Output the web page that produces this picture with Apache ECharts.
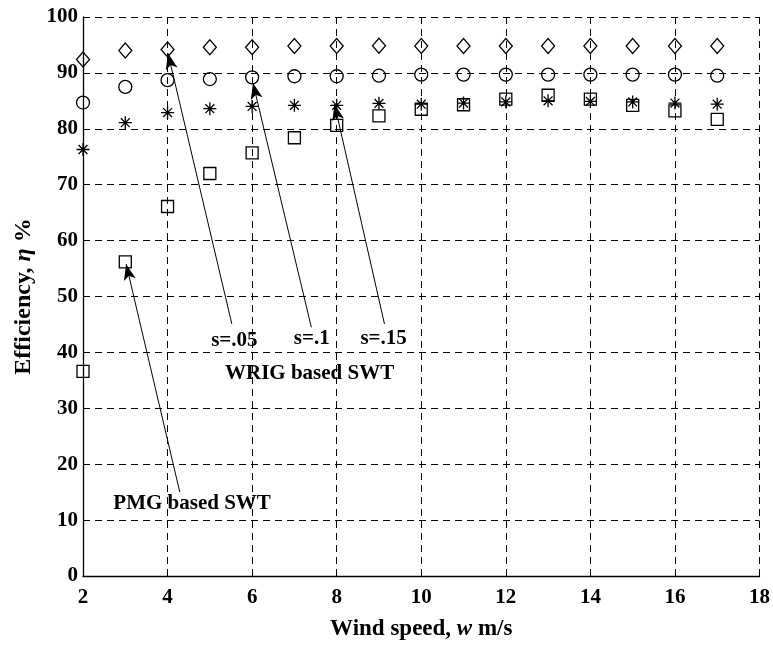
<!DOCTYPE html>
<html>
<head>
<meta charset="utf-8">
<script src="https://cdn.jsdelivr.net/npm/echarts@6/dist/echarts.min.js"></script>
<style>html,body{margin:0;padding:0;background:#fff}#c{width:773px;height:646px}</style>
</head>
<body>
<div id="c"></div>
<script>
const windSpeed = [2,3,4,5,6,7,8,9,10,11,12,13,14,15,16,17];
const wrigS05 = [92.4,94.0,94.2,94.6,94.6,94.8,94.8,94.85,94.8,94.8,94.8,94.8,94.8,94.8,94.8,94.8];
const wrigS10 = [84.7,87.5,88.7,88.9,89.2,89.4,89.4,89.5,89.7,89.7,89.7,89.7,89.7,89.7,89.7,89.5];
const wrigS15 = [76.3,81.1,82.9,83.6,84.0,84.2,84.2,84.55,84.4,84.6,84.8,85.0,84.9,84.8,84.6,84.4];
const pmg = [36.6,56.2,66.1,72.0,75.7,78.4,80.6,82.3,83.5,84.3,85.3,86.0,85.3,84.2,83.2,81.7];
const xTicks = [2,4,6,8,10,12,14,16,18];
const yTicks = [0,10,20,30,40,50,60,70,80,90,100];
const annotationTexts = ['s=.05','s=.1','s=.15','WRIG based SWT','PMG based SWT'];
const annotationAt = [[5.58,42.2],[7.41,42.5],[9.11,42.5],[7.36,36.2],[4.58,12.9]];
const arrowFrom = [[5.52,45.1],[7.40,44.5],[9.13,45.1],[4.29,15.0]];
const arrowTo = [[4.01,93.5],[6.02,88.2],[7.95,84.4],[3.02,55.8]];

const FONT = '"Liberation Serif", "DejaVu Serif", serif';
const pairs = ys => windSpeed.map((x,i)=>[x, ys[i]]);
const hollow = {color:'transparent', borderColor:'#000', borderWidth:1.3, opacity:1};
const asterisk = 'path://M6,0L6,12M0,6L12,6M1.9,1.9L10.1,10.1M1.9,10.1L10.1,1.9';

const chart = echarts.init(document.getElementById('c'), null, {renderer:'canvas'});
chart.setOption({
  animation:false,
  backgroundColor:'#fff',
  grid:{left:83, right:13, top:17, bottom:64},
  xAxis:{
    type:'value', min:xTicks[0], max:xTicks[xTicks.length-1], interval:2,
    name:'Wind speed, {i|w} m/s', nameLocation:'middle', nameGap:42,
    nameTextStyle:{fontFamily:FONT, fontWeight:'bold', fontSize:23, color:'#000',
      rich:{i:{fontFamily:FONT, fontWeight:'bold', fontStyle:'italic', fontSize:23, color:'#000'}}},
    axisLine:{lineStyle:{color:'#000', width:1.3}},
    axisTick:{inside:true, length:5, lineStyle:{color:'#000'}},
    axisLabel:{fontFamily:FONT, fontWeight:'bold', fontSize:21, color:'#000', margin:11},
    splitLine:{show:true, lineStyle:{color:'#000', type:[7,5], width:1}}
  },
  yAxis:{
    type:'value', min:yTicks[0], max:yTicks[yTicks.length-1], interval:10,
    name:'Efficiency, {i|η} %', nameLocation:'middle', nameGap:47, nameRotate:90,
    nameTextStyle:{fontFamily:FONT, fontWeight:'bold', fontSize:24, color:'#000',
      rich:{i:{fontFamily:FONT, fontWeight:'bold', fontStyle:'italic', fontSize:24, color:'#000'}}},
    axisLine:{show:true, lineStyle:{color:'#000', width:1.3}},
    axisTick:{show:true, inside:true, length:5, lineStyle:{color:'#000'}},
    axisLabel:{fontFamily:FONT, fontWeight:'bold', fontSize:21, color:'#000', margin:5},
    splitLine:{show:true, lineStyle:{color:'#000', type:[7,5], width:1}}
  },
  series:[
    {type:'scatter', name:'s=.05', data:pairs(wrigS05), symbol:'diamond', symbolSize:[13,15], itemStyle:hollow},
    {type:'scatter', name:'s=.1', data:pairs(wrigS10), symbol:'circle', symbolSize:13, itemStyle:hollow},
    {type:'scatter', name:'s=.15', data:pairs(wrigS15), symbol:asterisk, symbolSize:13, itemStyle:hollow},
    {type:'scatter', name:'PMG', data:pairs(pmg), symbol:'rect', symbolSize:12, itemStyle:hollow},
    {type:'scatter', name:'arrows', data:[], silent:true,
      markLine:{silent:true, symbol:['none','arrow'], symbolSize:[9,16], label:{show:false},
        lineStyle:{color:'#000', width:1, type:'solid', opacity:1},
        itemStyle:{color:'#000', opacity:1},
        emphasis:{disabled:true},
        data: arrowFrom.map((f,i)=>[{coord:f},{coord:arrowTo[i]}])}
    },
    {type:'scatter', name:'labels', silent:true, symbolSize:1, itemStyle:{color:'transparent', opacity:1},
      data: annotationAt.map((p,i)=>({value:p, name:annotationTexts[i]})),
      label:{show:true, position:'inside', formatter:p=>p.name, fontFamily:FONT, fontWeight:'bold', fontSize:21,
        color:'#000', opacity:1, textBorderWidth:0, textBorderColor:'transparent', textShadowBlur:0}
    }
  ]
});
</script>
</body>
</html>
